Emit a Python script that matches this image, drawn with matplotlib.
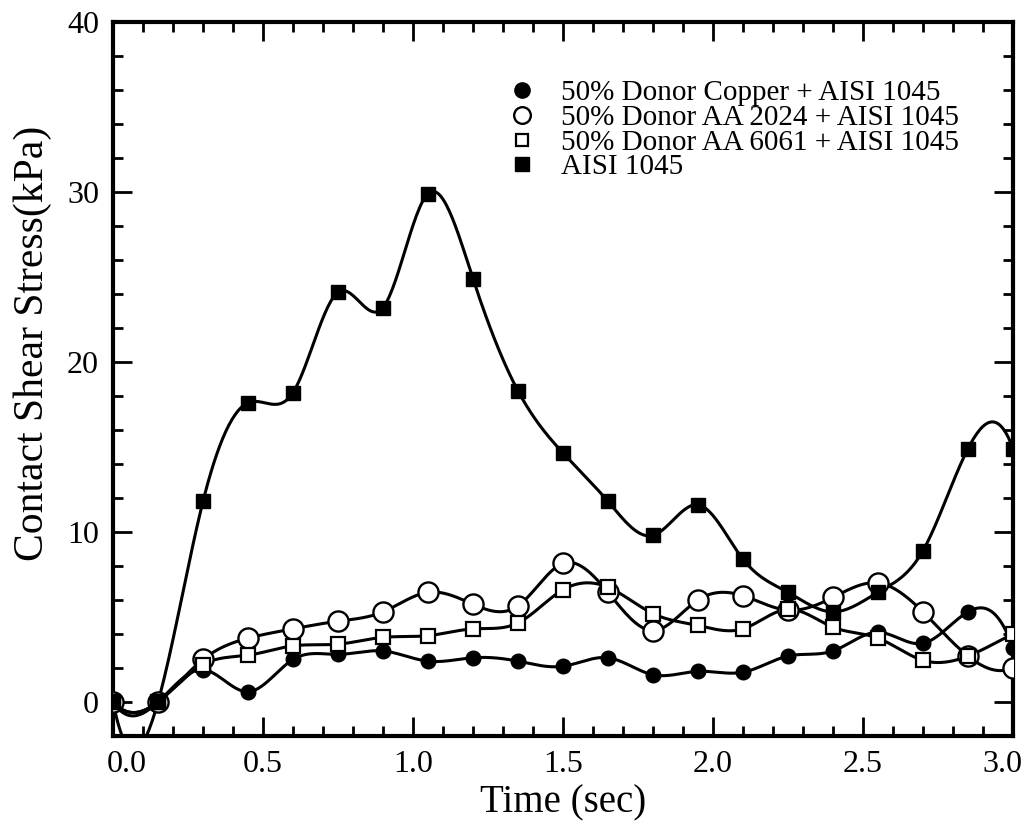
import matplotlib
matplotlib.use('Agg')
import matplotlib.pyplot as plt
import matplotlib.transforms as mtransforms
from matplotlib.lines import Line2D
from matplotlib.ticker import MultipleLocator, FormatStrFormatter
import numpy as np

plt.rcParams['font.family'] = ['Liberation Serif', 'DejaVu Serif']

# Data (time in sec, stress in kPa)
time = [0.0, 0.15, 0.30, 0.45, 0.60, 0.75, 0.90, 1.05, 1.20, 1.35, 1.50,
        1.65, 1.80, 1.95, 2.10, 2.25, 2.40, 2.55, 2.70, 2.85, 3.00]
copper = [0.0, 0.0, 1.9, 0.6, 2.5, 2.8, 3.0, 2.4, 2.6, 2.4, 2.1,
          2.6, 1.6, 1.8, 1.75, 2.7, 3.0, 4.1, 3.45, 5.3, 3.2]
aa2024 = [0.0, 0.0, 2.5, 3.75, 4.3, 4.75, 5.3, 6.45, 5.75, 5.65, 8.15,
          6.45, 4.2, 6.0, 6.25, 5.4, 6.15, 7.0, 5.3, 2.7, 2.0]
aa6061 = [0.0, 0.0, 2.2, 2.75, 3.3, 3.4, 3.8, 3.9, 4.3, 4.65, 6.6,
          6.75, 5.2, 4.5, 4.3, 5.45, 4.4, 3.75, 2.45, 2.7, 4.0]
aisi = [0.0, 0.0, 11.8, 17.6, 18.2, 24.1, 23.2, 29.9, 24.9, 18.3, 14.65,
        11.8, 9.8, 11.6, 8.4, 6.45, 5.3, 6.45, 8.9, 14.9, 14.9]

xtick_vals = [0.0, 0.5, 1.0, 1.5, 2.0, 2.5, 3.0]

labels = ['50% Donor Copper + AISI 1045',
          '50% Donor AA 2024 + AISI 1045',
          '50% Donor AA 6061 + AISI 1045',
          'AISI 1045']


def smooth(x, y, n=600):
    # cubic spline (not-a-knot ends) through the points, for the smoothed lines
    x = np.asarray(x, float)
    y = np.asarray(y, float)
    h = np.diff(x)
    N = len(x)
    A = np.zeros((N, N))
    b = np.zeros(N)
    A[0, 0:3] = [h[1], -(h[0] + h[1]), h[0]]
    A[-1, -3:] = [h[-1], -(h[-2] + h[-1]), h[-2]]
    for i in range(1, N - 1):
        A[i, i - 1] = h[i - 1]
        A[i, i] = 2 * (h[i - 1] + h[i])
        A[i, i + 1] = h[i]
        b[i] = 6 * ((y[i + 1] - y[i]) / h[i] - (y[i] - y[i - 1]) / h[i - 1])
    M = np.linalg.solve(A, b)
    xs = np.linspace(x[0], x[-1], n)
    k = np.clip(np.searchsorted(x, xs) - 1, 0, N - 2)
    hk = h[k]
    a = x[k + 1] - xs
    t = xs - x[k]
    ys = (M[k] * a ** 3 + M[k + 1] * t ** 3) / (6 * hk) \
        + (y[k] / hk - M[k] * hk / 6) * a + (y[k + 1] / hk - M[k + 1] * hk / 6) * t
    return xs, ys


fig = plt.figure(figsize=(10.31, 8.35), dpi=100)
ax = fig.add_axes([0.1096, 0.1186, 0.8729, 0.8551])

styles = [
    dict(marker='o', ms=10.5, mfc='black', mec='black', mew=1.0),
    dict(marker='o', ms=14.5, mfc='white', mec='black', mew=1.7),
    dict(marker='s', ms=9.5, mfc='white', mec='black', mew=1.6),
    dict(marker='s', ms=10.5, mfc='black', mec='black', mew=1.0),
]

for i, (series, st) in enumerate(zip([copper, aa2024, aa6061, aisi], styles)):
    xs, ys = smooth(time, series)
    ax.plot(xs, ys, color='black', lw=2.2, zorder=2 + i)
    ax.plot(time, series, ls='none', zorder=6 + i, **st)

ax.set_xlim(0, 3.0)
ax.set_ylim(-2, 40)
ax.set_xticks(xtick_vals)
ax.xaxis.set_minor_locator(MultipleLocator(0.1))
ax.yaxis.set_major_locator(MultipleLocator(10))
ax.yaxis.set_minor_locator(MultipleLocator(2))
ax.xaxis.set_major_formatter(FormatStrFormatter('%.1f'))

ax.tick_params(which='both', direction='in', top=True, right=True, width=2.0)
ax.tick_params(which='major', length=14, labelsize=23)
ax.tick_params(which='minor', length=7.5)
ax.tick_params(axis='x', pad=10)
ax.tick_params(axis='y', pad=10)
for s in ax.spines.values():
    s.set_linewidth(3.0)

# end labels sit inside the axis range like the original
xticks = ax.xaxis.get_major_ticks()
for tk, dx in [(xticks[0], 14), (xticks[-1], -11)]:
    lab = tk.label1
    lab.set_transform(lab.get_transform() +
                      mtransforms.ScaledTranslation(dx / 100, 0, fig.dpi_scale_trans))

ax.set_xlabel('Time (sec)', fontsize=28, labelpad=4)
ax.set_ylabel('Contact Shear Stress(kPa)', fontsize=30)
ax.yaxis.set_label_coords(-0.068, 0.55)

handles = [Line2D([], [], ls='none', **st) for st in styles]
handles[0].set_markersize(11)
handles[1].set_markersize(12)
handles[2].set_markersize(9)
handles[3].set_markersize(10.5)
ax.legend(handles, labels, loc='upper left', bbox_to_anchor=(0.425, 0.935),
          frameon=False, fontsize=21, labelspacing=-0.06, handlelength=1.0,
          handletextpad=0.85, borderaxespad=0)

fig.savefig('out.png', dpi=100)
